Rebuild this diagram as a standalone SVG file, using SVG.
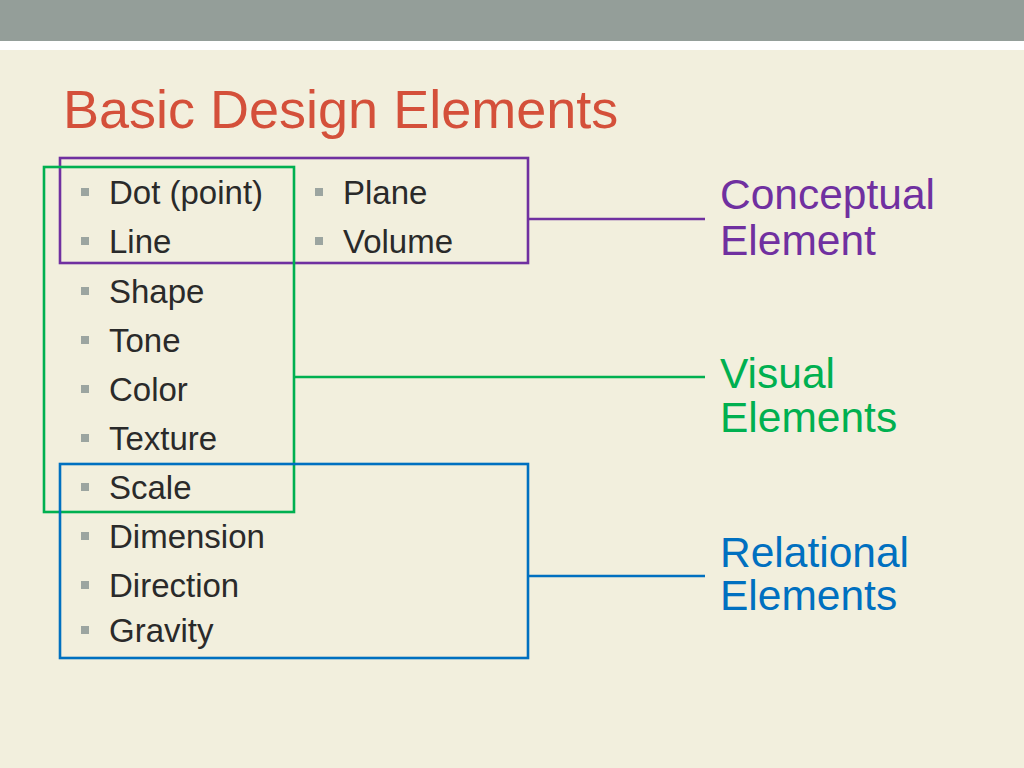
<svg xmlns="http://www.w3.org/2000/svg" width="1024" height="768" viewBox="0 0 1024 768">
<style>
.body{font-family:"Liberation Sans",Arial,sans-serif;font-size:33px;fill:#2a2a2a}
.bul{fill:#9ca5a0}
.lbl{font-family:"Liberation Sans",Arial,sans-serif;font-size:42.5px}
.box{fill:none;stroke-width:2.6}
</style>
<rect x="0" y="0" width="1024" height="768" fill="#f2efdd"/>
<rect x="0" y="0" width="1024" height="41" fill="#949e99"/>
<rect x="0" y="41" width="1024" height="9" fill="#ffffff"/>
<text x="63" y="128" font-family="Liberation Sans, Arial, sans-serif" font-size="54" fill="#d4503a">Basic Design Elements</text>

<g id="items">
<rect class="bul" x="81" y="188" width="8" height="8"/><text class="body" x="109" y="204">Dot (point)</text>
<rect class="bul" x="81" y="237" width="8" height="8"/><text class="body" x="109" y="253">Line</text>
<rect class="bul" x="81" y="287" width="8" height="8"/><text class="body" x="109" y="303">Shape</text>
<rect class="bul" x="81" y="336" width="8" height="8"/><text class="body" x="109" y="352">Tone</text>
<rect class="bul" x="81" y="385" width="8" height="8"/><text class="body" x="109" y="401">Color</text>
<rect class="bul" x="81" y="434" width="8" height="8"/><text class="body" x="109" y="450">Texture</text>
<rect class="bul" x="81" y="483" width="8" height="8"/><text class="body" x="109" y="499">Scale</text>
<rect class="bul" x="81" y="532" width="8" height="8"/><text class="body" x="109" y="548">Dimension</text>
<rect class="bul" x="81" y="581" width="8" height="8"/><text class="body" x="109" y="597">Direction</text>
<rect class="bul" x="81" y="626" width="8" height="8"/><text class="body" x="109" y="642">Gravity</text>
<rect class="bul" x="315" y="188" width="8" height="8"/><text class="body" x="343" y="204">Plane</text>
<rect class="bul" x="315" y="237" width="8" height="8"/><text class="body" x="343" y="253">Volume</text>
</g>

<g id="conceptual">
<rect class="box" x="60" y="158" width="468" height="105" stroke="#7030a0"/>
<text class="lbl" x="720" y="209" fill="#7030a0">Conceptual</text>
<text class="lbl" x="720" y="255" fill="#7030a0">Element</text>
</g>
<g id="visual">
<rect class="box" x="44" y="167" width="250" height="345" stroke="#00b050"/>
<text class="lbl" x="720" y="388" fill="#00b050">Visual</text>
<text class="lbl" x="720" y="432" fill="#00b050">Elements</text>
</g>
<g id="relational">
<rect class="box" x="60" y="464" width="468" height="194" stroke="#0070c0"/>
<text class="lbl" x="720" y="567" fill="#0070c0">Relational</text>
<text class="lbl" x="720" y="610" fill="#0070c0">Elements</text>
</g>

<g id="connectors" stroke-width="2.6">
<line x1="528" y1="219" x2="705" y2="219" stroke="#7030a0"/>
<line x1="294" y1="377" x2="705" y2="377" stroke="#00b050"/>
<line x1="528" y1="576" x2="705" y2="576" stroke="#0070c0"/>
</g>
</svg>
